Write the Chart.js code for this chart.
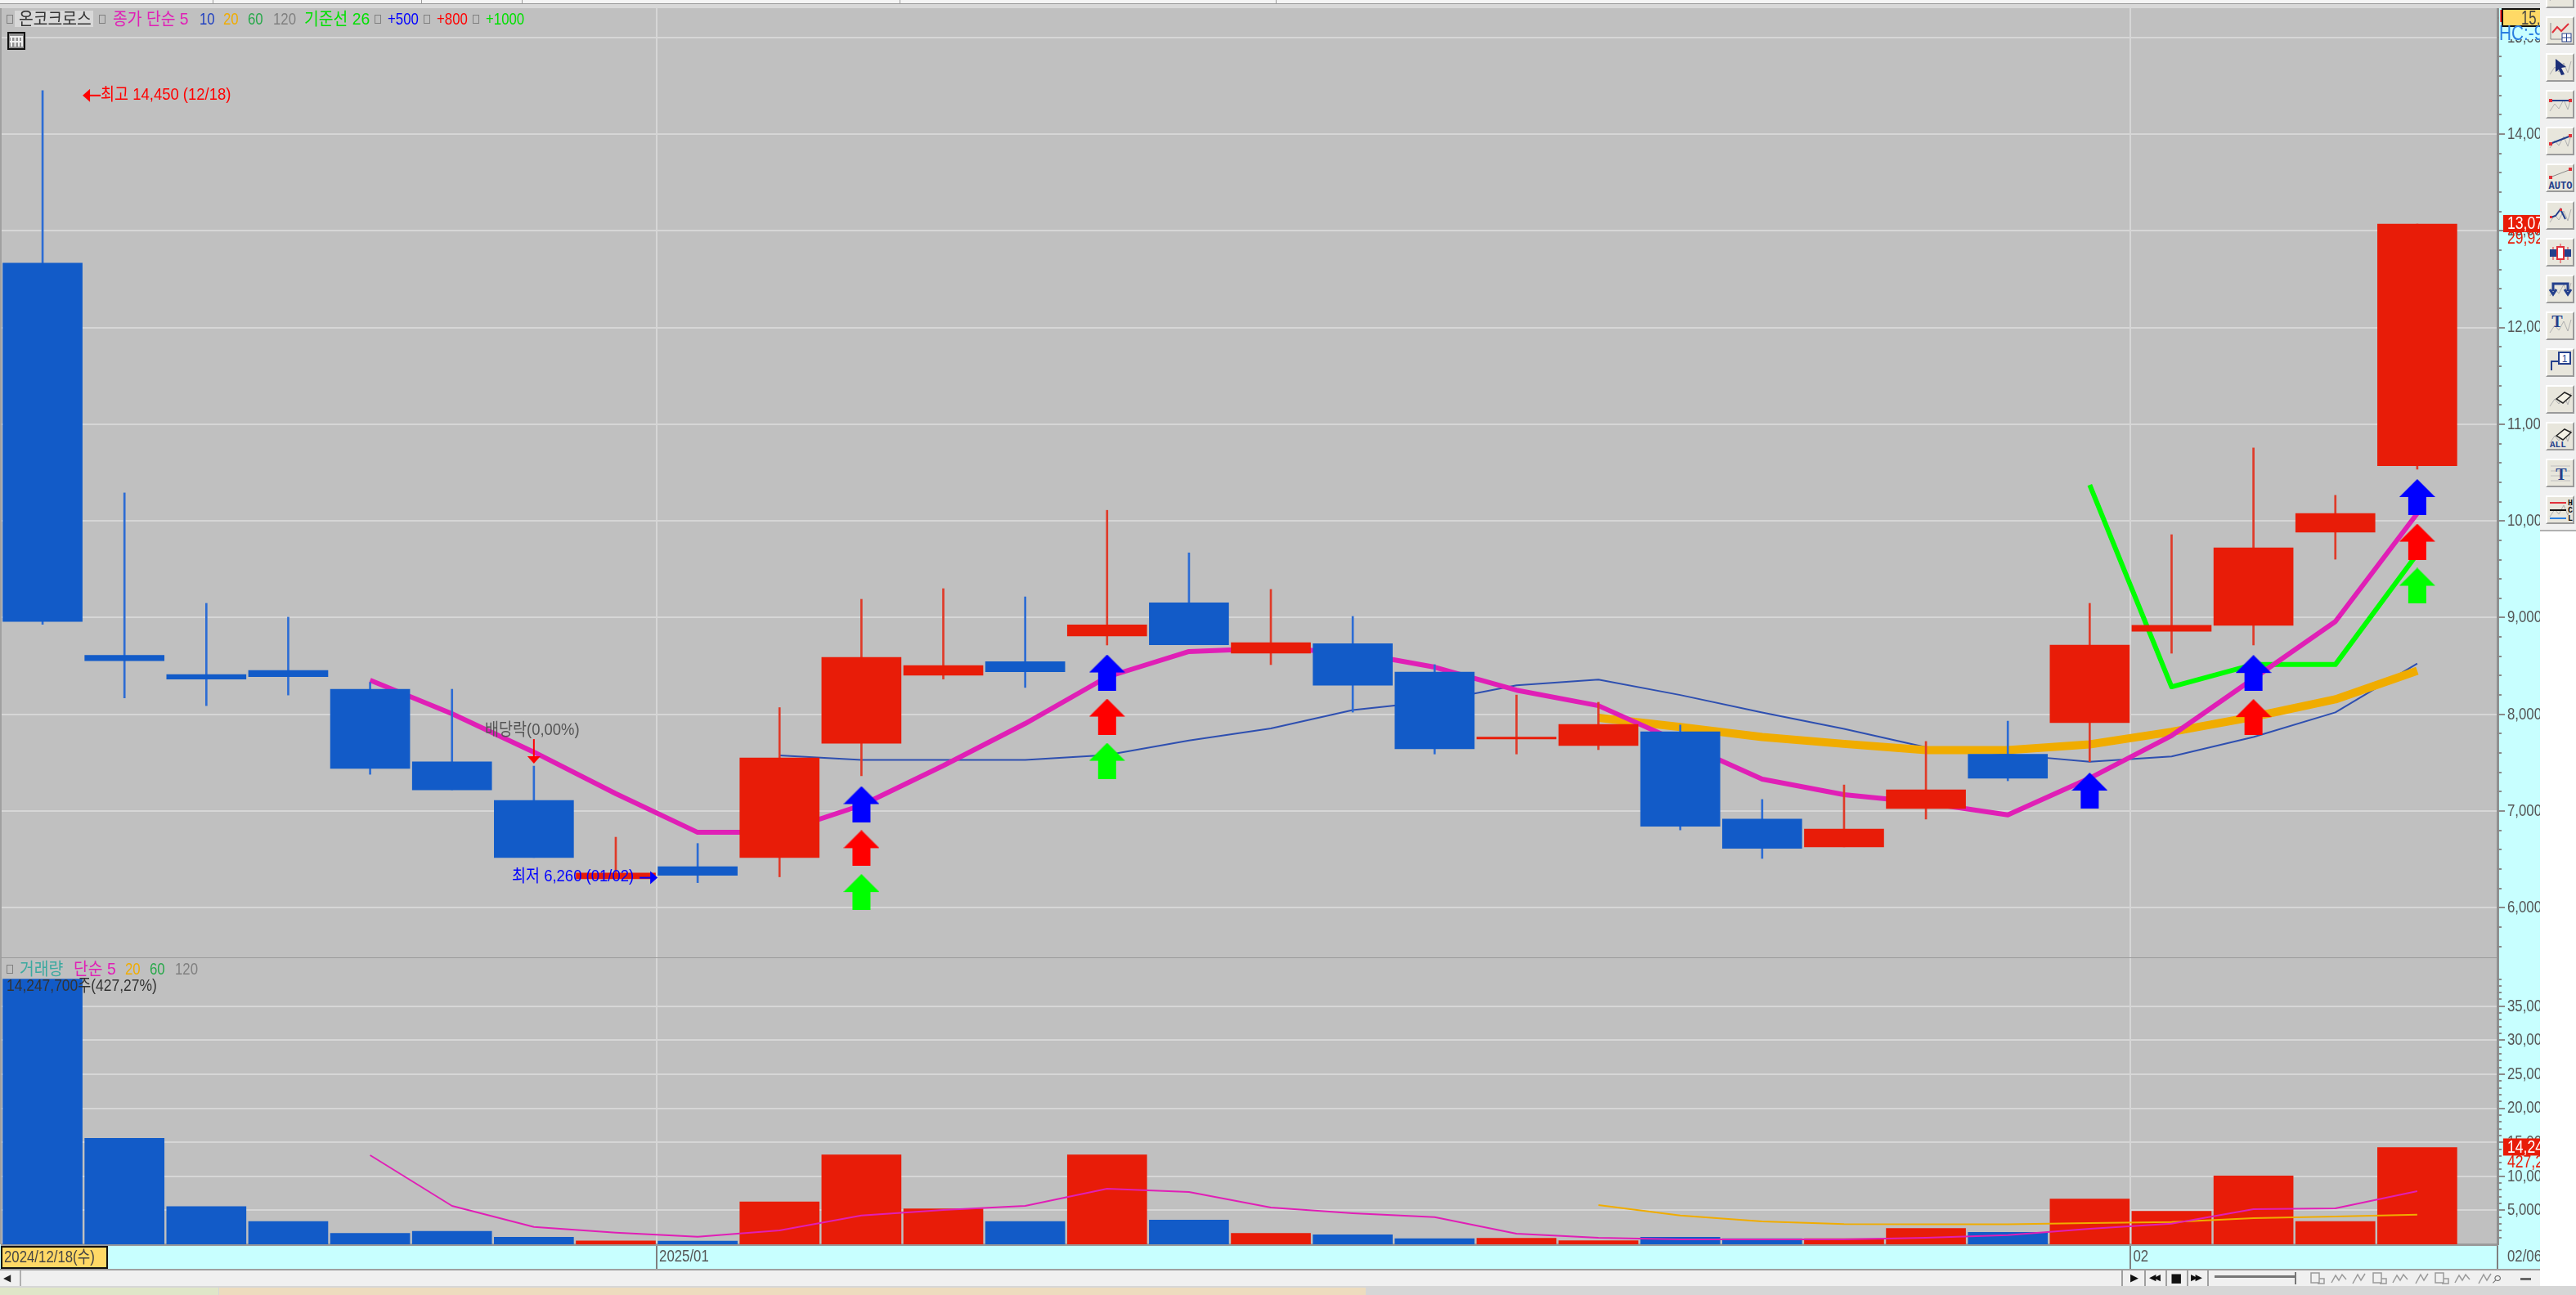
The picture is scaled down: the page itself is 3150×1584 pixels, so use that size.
<!DOCTYPE html>
<html lang="ko">
<head>
<meta charset="utf-8">
<title>온코크로스</title>
<script src="https://cdn.jsdelivr.net/npm/chart.js@4"></script>
<style>
  html, body { margin: 0; padding: 0; background: #fff; }
  #page { position: relative; width: 3150px; height: 1584px; overflow: hidden; background: #fff; }
  #page canvas { position: absolute; left: 0; }
  .box { position: absolute; }
  .txt { position: absolute; white-space: nowrap; height: 30px; line-height: 30px;
         font-family: "Liberation Sans", "Noto Sans CJK KR", sans-serif; font-size: 21px;
         transform: scaleX(0.8); transform-origin: left center; }
  .btn { position: absolute; left: 3113px; width: 31px; height: 31px; background: #e8e6dc;
         border: 2px solid; border-color: #fff #9a9a9a #9a9a9a #fff; }
</style>
</head>
<body>
<div id="page">
  <canvas id="priceChart" width="3106" height="1162" style="top:10px"></canvas>
  <canvas id="volumeChart" width="3106" height="380" style="top:1172px"></canvas>
</div>
<script>
// daily candles, 2024/12/18 ~ 2025/02/06
const opens  = [12665, 8610, 8412, 8455, 8260, 7510, 7110, 6300, 6425, 6520, 7700, 8405, 8545, 8810, 9153, 8632, 8730, 8438, 7745, 7677, 7820, 6917, 6630, 7027, 7587, 7914, 8860, 8920, 9885, 10570];
const closes = [8960, 8555, 8365, 8390, 7440, 7220, 6520, 6360, 6335, 7550, 8590, 8505, 8440, 8925, 8720, 8742, 8300, 7643, 7765, 7897, 6843, 6615, 6815, 7220, 7340, 8717, 8920, 9723, 10078, 13070];
const highs  = [14450, 10290, 9148, 9005, 8330, 8260, 7465, 6730, 6665, 8070, 9190, 9300, 9215, 10110, 9670, 9292, 9013, 8514, 8200, 8125, 7890, 7120, 7270, 7720, 7930, 9148, 9858, 10755, 10265, 13070];
const lows   = [8930, 8170, 8090, 8200, 7380, 7220, 6520, 6300, 6260, 6320, 7365, 8365, 8278, 8717, 8720, 8514, 8023, 7590, 7590, 7635, 6805, 6510, 6630, 6917, 7313, 7510, 8632, 8717, 9604, 10535];

// price moving averages
const n = null;
const maFive = [n, n, n, n, 8353, 8007, 7610, 7180, 6780, 6780, 7060, 7470, 7905, 8387, 8650, 8683, 8640, 8488, 8250, 8090, 7710, 7330, 7170, 7085, 6960, 7340, 7780, 8370, 8960, 10078];
const maTen = [n, n, n, n, n, n, n, n, n, 7575, 7530, 7530, 7530, 7580, 7730, 7855, 8045, 8135, 8300, 8360, 8200, 8020, 7850, 7660, 7585, 7510, 7565, 7765, 8020, 8525];
const maTwenty = [n, n, n, n, n, n, n, n, n, n, n, n, n, n, n, n, n, n, n, 7965, 7870, 7765, 7695, 7630, 7630, 7690, 7820, 7975, 8155, 8450];
const baseLine = [n, n, n, n, n, n, n, n, n, n, n, n, n, n, n, n, n, n, n, n, n, n, n, n, n, 10373, 8285, 8515, 8515, 9660];

// signal arrows (day index, price)
const signalBlueDays = [10, 13, 25, 27, 29];
const signalBlue     = [7072, 8433, 7212, 8428, 10247];
const signalRedDays  = [10, 13, 27, 29];
const signalRed      = [6617, 7977, 7972, 9786];
const signalGreenDays = [10, 13, 29];
const signalGreen     = [6163, 7520, 9330];

// volume (thousand shares)
const volumes = [39000, 15600, 5550, 3350, 1600, 1900, 1050, 500, 480, 6250, 13140, 5210, 3365, 13140, 3570, 1600, 1400, 840, 880, 520, 1040, 840, 840, 2320, 1760, 6650, 4850, 10060, 3365, 14248];
const volFive = [n, n, n, n, 13100, 5650, 2560, 1720, 1120, 2040, 4240, 5050, 5650, 8170, 7690, 5400, 4570, 4000, 1560, 960, 720, 720, 720, 960, 1360, 2280, 3040, 5170, 5290, 7810];
const volTwenty = [n, n, n, n, n, n, n, n, n, n, n, n, n, n, n, n, n, n, n, 5770, 4240, 3370, 2970, 2950, 2950, 3125, 3280, 3850, 4090, 4370];

// axis ticks
const priceTicks = [6000, 7000, 8000, 9000, 10000, 11000, 12000, 13000, 14000, 15000];
const volumeTicks = [5000, 10000, 15000, 20000, 25000, 30000, 35000];
const X_MAX = 29.98;
const dateTicks = [7.5, 25.5, X_MAX];
const dateLabels = ['2025/01', '02', '02/06'];

const fontFamily = '"Liberation Sans", "Noto Sans CJK KR", sans-serif';
const AXIS_RATIO = 0.8; // the original font is tall and narrow
const NOTE_RATIO = 0.88;
const RED = '#e81c08';
const BLUE = '#125bc8';
const PLOT_LEFT = 2;
const AXIS_WIDTH = 52;

const comma = (v) => String(v).replace(/\B(?=(\d{3})+$)/g, ',');
const isUp = (i) => closes[i] >= opens[i];
const dayPoints = (arr) => arr.map((v, i) => ({ x: i, y: v }));
const candleColor = (ctx) => (isUp(ctx.dataIndex) ? RED : BLUE);

const narrowText = (ctx, s, x, y, ratio) => {
  ctx.save();
  ctx.translate(x, y);
  ctx.scale(ratio || AXIS_RATIO, 1);
  ctx.fillText(s, 0, 0);
  ctx.restore();
};

// arrow used as point image
const makeArrow = (color) => {
  const c = document.createElement('canvas');
  c.width = 44; c.height = 44;
  const g = c.getContext('2d');
  g.fillStyle = color;
  g.beginPath();
  g.moveTo(22, 0); g.lineTo(44, 22); g.lineTo(33, 22); g.lineTo(33, 44);
  g.lineTo(11, 44); g.lineTo(11, 22); g.lineTo(0, 22);
  g.closePath();
  g.fill();
  return c;
};

const arrowSet = (days, vals, color) => ({
  type: 'scatter',
  data: days.map((d, i) => ({ x: d, y: vals[i] })),
  pointStyle: makeArrow(color),
  pointRadius: 22,
  order: 0
});

const lineSet = (arr, color, width, order) => ({
  type: 'line',
  data: dayPoints(arr),
  borderColor: color,
  borderWidth: width,
  pointRadius: 0,
  tension: 0,
  spanGaps: false,
  borderJoinStyle: 'round',
  order: order
});

// pane background, axis labels, minor axis ticks, tag of the last value
const panePlugin = {
  id: 'pane',
  beforeDraw(chart) {
    const { ctx, chartArea: a, width, height } = chart;
    ctx.save();
    ctx.fillStyle = '#c8ffff';
    ctx.fillRect(0, 0, width, height);
    ctx.fillStyle = '#c0c0c0';
    ctx.fillRect(0, a.top, a.right, a.bottom - a.top);
    ctx.fillStyle = '#a0a0a0';
    ctx.fillRect(0, a.top, PLOT_LEFT, a.bottom - a.top);
    ctx.restore();
  },
  afterDraw(chart, args, opts) {
    const { ctx, chartArea: a, scales: { x, y } } = chart;
    ctx.save();
    ctx.strokeStyle = '#8a8a8a';
    ctx.lineWidth = 2;
    for (let v = opts.minorFrom; v <= opts.minorTo; v += opts.minorStep) {
      const py = Math.round(y.getPixelForValue(v));
      ctx.beginPath();
      ctx.moveTo(a.right, py);
      ctx.lineTo(a.right + 5, py);
      ctx.stroke();
    }
    // axis labels
    ctx.font = '21px ' + fontFamily;
    ctx.textBaseline = 'middle';
    ctx.fillStyle = '#555';
    y.ticks.forEach((t) => narrowText(ctx, t.label, a.right + 12, y.getPixelForValue(t.value)));
    if (opts.showDates) {
      x.ticks.forEach((t) => narrowText(ctx, t.label, x.getPixelForValue(t.value) + (t.value === X_MAX ? 12 : 3), a.bottom + 15));
    }
    // last value tag
    const py = y.getPixelForValue(opts.tagValue);
    ctx.fillStyle = RED;
    ctx.fillRect(a.right + 7, py - 11, 60, 21);
    ctx.font = '22px ' + fontFamily;
    ctx.fillStyle = '#fff';
    narrowText(ctx, comma(opts.tagValue), a.right + 12, py);
    ctx.fillStyle = RED;
    narrowText(ctx, opts.tagSub, a.right + 12, py + 18);
    ctx.restore();
  }
};

// high / low / ex-dividend marks of the price pane
const marksPlugin = {
  id: 'marks',
  afterDatasetsDraw(chart) {
    const { ctx, scales: { x, y } } = chart;
    const arrowHead = (tipX, tipY, dx, dy, color) => {
      ctx.fillStyle = color;
      ctx.beginPath();
      ctx.moveTo(tipX, tipY);
      if (dx) { ctx.lineTo(tipX + dx, tipY - 8); ctx.lineTo(tipX + dx, tipY + 8); }
      else { ctx.lineTo(tipX - 8, tipY - dy); ctx.lineTo(tipX + 8, tipY - dy); }
      ctx.closePath();
      ctx.fill();
    };
    ctx.save();
    ctx.font = '21px ' + fontFamily;
    ctx.textBaseline = 'middle';
    ctx.lineWidth = 2;

    // 최고
    const hiX = x.getPixelForValue(0) + 49;
    const hiY = y.getPixelForValue(highs[0]) + 6;
    ctx.strokeStyle = '#ff0000';
    ctx.beginPath(); ctx.moveTo(hiX + 8, hiY); ctx.lineTo(hiX + 22, hiY); ctx.stroke();
    arrowHead(hiX, hiY, 9, 0, '#ff0000');
    ctx.fillStyle = '#ff0000';
    narrowText(ctx, '최고 ' + comma(highs[0]) + ' (12/18)', hiX + 22, hiY - 1, NOTE_RATIO);

    // 최저
    const loX = x.getPixelForValue(8) - 49;
    const loY = y.getPixelForValue(lows[8]) - 6;
    ctx.strokeStyle = '#0000ff';
    ctx.beginPath(); ctx.moveTo(loX - 22, loY); ctx.lineTo(loX - 8, loY); ctx.stroke();
    arrowHead(loX, loY, -9, 0, '#0000ff');
    ctx.fillStyle = '#0000ff';
    ctx.textAlign = 'right';
    narrowText(ctx, '최저 ' + comma(lows[8]) + ' (01/02)', loX - 29, loY - 1, NOTE_RATIO);
    ctx.textAlign = 'left';

    // 배당락
    const exX = x.getPixelForValue(6);
    const exY = y.getPixelForValue(highs[6]);
    ctx.strokeStyle = '#ff0000';
    ctx.beginPath(); ctx.moveTo(exX, exY - 33); ctx.lineTo(exX, exY - 11); ctx.stroke();
    arrowHead(exX, exY - 3, 0, 9, '#ff0000');
    ctx.fillStyle = '#555';
    ctx.textAlign = 'center';
    narrowText(ctx, '배당락(0,00%)', exX - 2, exY - 44, NOTE_RATIO);
    ctx.restore();
  }
};

const xAxis = (showLabels) => ({
  type: 'linear',
  min: -0.5,
  max: X_MAX,
  offset: false,
  afterBuildTicks(scale) { scale.ticks = dateTicks.map((v) => ({ value: v })); },
  afterFit(scale) { scale.height = showLabels ? 30 : 0; scale.paddingLeft = 0; scale.paddingRight = 0; },
  grid: { offset: false, color: '#d6d6d6', lineWidth: 2, drawTicks: showLabels, tickLength: 30, tickColor: '#808080', tickWidth: 2 },
  border: { color: '#9a9a9a', width: 3 },
  ticks: {
    display: false,
    autoSkip: false,
    callback: (v) => dateLabels[dateTicks.indexOf(v)] || ''
  }
});

const yAxis = (min, max, tickValues) => ({
  position: 'right',
  min: min,
  max: max,
  afterBuildTicks(scale) { scale.ticks = tickValues.map((v) => ({ value: v })); },
  afterFit(scale) { scale.width = AXIS_WIDTH; scale.paddingTop = 0; scale.paddingBottom = 0; },
  grid: { color: '#d6d6d6', lineWidth: 2, tickLength: 9, tickColor: '#8a8a8a' },
  border: { color: '#909090', width: 3 },
  ticks: {
    display: false,
    autoSkip: false,
    callback: (v) => comma(v)
  }
});

new Chart(document.getElementById('priceChart'), {
  type: 'bar',
  plugins: [panePlugin, marksPlugin],
  data: {
    datasets: [
      arrowSet(signalBlueDays, signalBlue, '#0000ff'),
      arrowSet(signalRedDays, signalRed, '#ff0000'),
      arrowSet(signalGreenDays, signalGreen, '#00ff00'),
      {
        label: 'body',
        data: opens.map((o, i) => ({ x: i, y: [o, closes[i]] })),
        backgroundColor: candleColor,
        barThickness: 97,
        grouped: false,
        order: 1
      },
      {
        label: 'wick',
        data: lows.map((l, i) => ({ x: i, y: [l, highs[i]] })),
        backgroundColor: (ctx) => (isUp(ctx.dataIndex) ? '#e03a28' : '#2c6cd4'),
        barThickness: 2,
        grouped: false,
        order: 2
      },
      lineSet(maTen, '#2e4fb0', 2, 5),
      lineSet(maFive, '#e01fb6', 6, 3),
      lineSet(baseLine, '#00ff00', 6, 4),
      lineSet(maTwenty, '#f0ac00', 10, 3)
    ]
  },
  options: {
    responsive: false,
    animation: false,
    layout: { autoPadding: false, padding: { left: PLOT_LEFT, right: 0, top: 0, bottom: 0 } },
    plugins: {
      legend: { display: false },
      tooltip: { enabled: false },
      pane: { minorFrom: 5600, minorTo: 15200, minorStep: 200, tagValue: closes[29], tagSub: '29,92%', showDates: false }
    },
    scales: { x: xAxis(false), y: yAxis(5479, 15302, priceTicks) }
  }
});

new Chart(document.getElementById('volumeChart'), {
  type: 'bar',
  plugins: [panePlugin],
  data: {
    datasets: [
      lineSet(volFive, '#e01fb6', 2, 0),
      lineSet(volTwenty, '#f0ac00', 2, 0),
      {
        label: 'volume',
        data: dayPoints(volumes),
        backgroundColor: candleColor,
        barThickness: 97,
        order: 1
      }
    ]
  },
  options: {
    responsive: false,
    animation: false,
    layout: { autoPadding: false, padding: { left: PLOT_LEFT, right: 0, top: 0, bottom: 0 } },
    plugins: {
      legend: { display: false },
      tooltip: { enabled: false },
      pane: { minorFrom: 1000, minorTo: 39000, minorStep: 1000, tagValue: volumes[29], tagSub: '427,27%', showDates: true }
    },
    scales: { x: xAxis(true), y: yAxis(0, 42070, volumeTicks) }
  }
});

// window chrome around the charts
const page = document.getElementById('page');
const addBox = (x, y, w, h, bg, extra) => {
  const d = document.createElement('div');
  d.className = 'box';
  d.style.cssText = `left:${x}px;top:${y}px;width:${w}px;height:${h}px;background:${bg};${extra || ''}`;
  page.appendChild(d);
  return d;
};
const addText = (s, x, y, color, size, extra) => {
  const d = document.createElement('div');
  d.className = 'txt';
  d.textContent = s;
  d.style.cssText = `left:${x}px;top:${y - 15}px;color:${color};font-size:${size || 21}px;${extra || ''}`;
  page.appendChild(d);
  return d;
};
const smallSquare = (x, y) => addBox(x, y - 5, 6, 9, 'transparent', 'border:1px solid #808080;');
const PLAIN = 'font-family:DejaVu Sans;transform:none;';
const WIDE = 'transform:scaleX(0.92);';

// top strip
addBox(0, 0, 3150, 4, '#f4f4f4', 'border-bottom:1px solid #9a9a9a;');
addBox(0, 5, 3106, 5, '#d8d8d8');
[260, 515, 638, 1100, 1560].forEach((x) => addBox(x, 0, 1, 4, '#9a9a9a'));

// price legend
smallSquare(8, 23);
addBox(18, 13, 96, 20, '#d8d8d8');
addText('온코크로스', 23, 23, '#333', 21, WIDE);
smallSquare(121, 23);
addText('종가 단순 5', 138, 23, '#e01fb6', 21, WIDE);
addText('10', 244, 23, '#2040c0');
addText('20', 273, 23, '#f0ac00');
addText('60', 303, 23, '#27a84a');
addText('120', 334, 23, '#808080');
addText('기준선 26', 372, 23, '#00e000', 21, WIDE);
smallSquare(458, 23);
addText('+500', 474, 23, '#0000ff');
smallSquare(518, 23);
addText('+800', 534, 23, '#ff0000');
smallSquare(578, 23);
addText('+1000', 594, 23, '#00e000');

// table icon under the legend
const tableIcon = addBox(9, 39, 18, 18, '#909090', 'border:2px solid #111;');
tableIcon.innerHTML = '<svg width="18" height="18" style="display:block"><path d="M3 4V16M7.5 4V16M12 4V16M16 4V16M1 4H17M1 10H17" stroke="#f0f0f0" stroke-width="2" fill="none"/></svg>';

// volume legend
smallSquare(8, 1185);
addText('거래량', 24, 1185, '#3ca9a0', 21, WIDE);
addText('단순 5', 90, 1185, '#e01fb6', 21, WIDE);
addText('20', 153, 1185, '#f0ac00');
addText('60', 183, 1185, '#27a84a');
addText('120', 214, 1185, '#808080');
addText('14,247,700주(427,27%)', 8, 1205, '#333', 21, 'transform:scaleX(0.83);');

// top right values
addBox(3056, 10, 50, 38, '#c8ffff');
addText('L', 3056, 20, '#ff0000', 22);
const hiBox = addBox(3059, 10, 47, 19, '#ffd966', 'border:2px solid #111;border-right:0;overflow:hidden;');
const hiLabel = addText('15,2', 22, 10, '#444', 24, 'transform:scaleX(0.7);');
hiBox.appendChild(hiLabel);
addText('HC:-9', 3056, 40, '#2a7fe0', 26, 'width:62px;overflow:hidden;');

// date strip
addBox(1, 1524, 127, 24, '#ffd966', 'border:2px solid #111;');
addText('2024/12/18(수)', 5, 1537, '#444');

// scroll row
addBox(0, 1552, 3106, 21, '#f0f0f0', 'border-top:2px solid #a0a0a0;box-sizing:border-box;');
addBox(24, 1554, 2, 19, '#b0b0b0');
addText('◀', 4, 1563, '#222', 12, PLAIN);
[2594, 2622, 2648, 2674, 2699].forEach((x) => addBox(x, 1554, 2, 19, '#a0a0a0'));
addText('▶', 2605, 1563, '#111', 13, PLAIN);
addText('◀◀', 2628, 1563, '#111', 11, PLAIN + 'letter-spacing:-3px;');
addText('■', 2654, 1563, '#111', 15, PLAIN);
addText('▶▶', 2679, 1563, '#111', 11, PLAIN + 'letter-spacing:-3px;');
addBox(2708, 1560, 98, 3, '#777');
addBox(2806, 1556, 2, 15, '#777');
[2824, 2850, 2874, 2900, 2925, 2951, 2976, 3001, 3028].forEach((x, i) => {
  const ic = addBox(x, 1556, 20, 15, 'transparent');
  ic.innerHTML = '<svg width="20" height="15"><path d="' +
    (i % 3 === 0 ? 'M2 1H12V13H2ZM12 8H18V14H10' : i % 3 === 1 ? 'M1 13L6 4L10 10L14 3L19 9' : 'M3 14L9 3L13 10L18 2') +
    '" stroke="#999" stroke-width="1.5" fill="none"/></svg>';
});
addText('⌕', 3048, 1563, '#666', 22, PLAIN);
addBox(3082, 1563, 13, 3, '#666');

// bottom strip
addBox(0, 1573, 3150, 11, '#d6d6d6');
addBox(0, 1575, 267, 9, '#dfe6c8');
addBox(268, 1575, 1402, 9, '#eddcbe');

// drawing toolbar
const grayWave = '<path d="M3 24L9 15L14 21L20 10L25 22L29 8" stroke="#b0b0b0" fill="none"/>';
const tools = [
  '<path d="M4 26V6M4 26H28" stroke="#888" fill="none"/><path d="M6 18L12 11L17 16L26 7" stroke="#e0303a" stroke-width="2" fill="none"/><rect x="18" y="19" width="11" height="10" fill="#fff" stroke="#24408c"/><path d="M23.5 19V29M18 24H29" stroke="#24408c"/>',
  grayWave + '<path d="M10 5L23 15L17 16L21 24L17 25L14 18L10 21Z" fill="#1c2f78"/>',
  grayWave + '<path d="M3 11H29" stroke="#24408c" stroke-width="2"/><rect x="2" y="9" width="4" height="4" fill="#e0303a"/><rect x="26" y="9" width="4" height="4" fill="#e0303a"/>',
  grayWave + '<path d="M3 19L29 9" stroke="#24408c" stroke-width="2"/><rect x="2" y="17" width="4" height="4" fill="#e0303a"/><rect x="26" y="7" width="4" height="4" fill="#e0303a"/>',
  '<path d="M3 15L29 5" stroke="#888"/><rect x="2" y="13" width="4" height="4" fill="#e0303a"/><rect x="26" y="3" width="4" height="4" fill="#e0303a"/><text x="16" y="29" text-anchor="middle" font-family="Liberation Mono" font-weight="bold" font-size="12" fill="#24408c">AUTO</text>',
  grayWave + '<path d="M4 18L10 16L16 8L22 20" stroke="#24408c" stroke-width="2" fill="none"/><rect x="3" y="16" width="3" height="3" fill="#e0303a"/><rect x="15" y="7" width="3" height="3" fill="#e0303a"/>',
  '<path d="M7 9V25M16 5V29M25 9V25" stroke="#e0303a"/><rect x="3" y="12" width="8" height="9" fill="#24408c"/><rect x="12" y="9" width="8" height="15" fill="#fff" stroke="#e0303a" stroke-width="2"/><rect x="21" y="12" width="8" height="9" fill="#24408c"/>',
  grayWave + '<path d="M7 18V9H25V18M3 16L7 22L11 16M21 16L25 22L29 16" stroke="#24408c" stroke-width="3" fill="none"/>',
  grayWave + '<text x="12" y="17" text-anchor="middle" font-family="Liberation Serif" font-weight="bold" font-size="20" fill="#24408c">T</text>',
  '<path d="M5 25V14H14" stroke="#24408c" stroke-width="2" fill="none"/><rect x="14" y="3" width="14" height="14" fill="#fff" stroke="#24408c" stroke-width="2"/><text x="21" y="15" text-anchor="middle" font-family="Liberation Sans" font-size="12" fill="#24408c">1</text>',
  grayWave + '<path d="M11 15L21 7L29 11L19 20Z" fill="#f4f2e6" stroke="#222" stroke-width="1.5"/>',
  grayWave + '<path d="M11 15L21 7L29 11L19 20Z" fill="#f4f2e6" stroke="#222" stroke-width="1.5"/><text x="3" y="29" font-family="Liberation Mono" font-weight="bold" font-size="11" fill="#24408c">ALL</text>',
  '<path d="M4 7H28M4 13H28M4 19H28M4 25H28" stroke="#c0c0c0"/><text x="17" y="24" text-anchor="middle" font-family="Liberation Serif" font-weight="bold" font-size="20" fill="#24408c">T</text>',
  grayWave + '<path d="M3 7H23" stroke="#e0303a" stroke-width="2"/><path d="M3 16H23" stroke="#111" stroke-width="2"/><path d="M3 26H23" stroke="#2a7fe0" stroke-width="2"/><text x="28" y="10" text-anchor="middle" font-family="Liberation Mono" font-weight="bold" font-size="10" fill="#111">H</text><text x="28" y="19" text-anchor="middle" font-family="Liberation Mono" font-weight="bold" font-size="10" fill="#111">C</text><text x="28" y="29" text-anchor="middle" font-family="Liberation Mono" font-weight="bold" font-size="10" fill="#111">L</text>'
];
addBox(3106, 0, 44, 650, '#f0f0f0', 'border-bottom:2px solid #b0b0b0;box-sizing:border-box;');
[grayWave].concat(tools).forEach((svg, i) => {
  const b = document.createElement('div');
  b.className = 'btn';
  b.style.top = (20 + (i - 1) * 45.1) + 'px';
  b.innerHTML = '<svg width="31" height="31">' + svg + '</svg>';
  page.appendChild(b);
});
</script>
</body>
</html>
